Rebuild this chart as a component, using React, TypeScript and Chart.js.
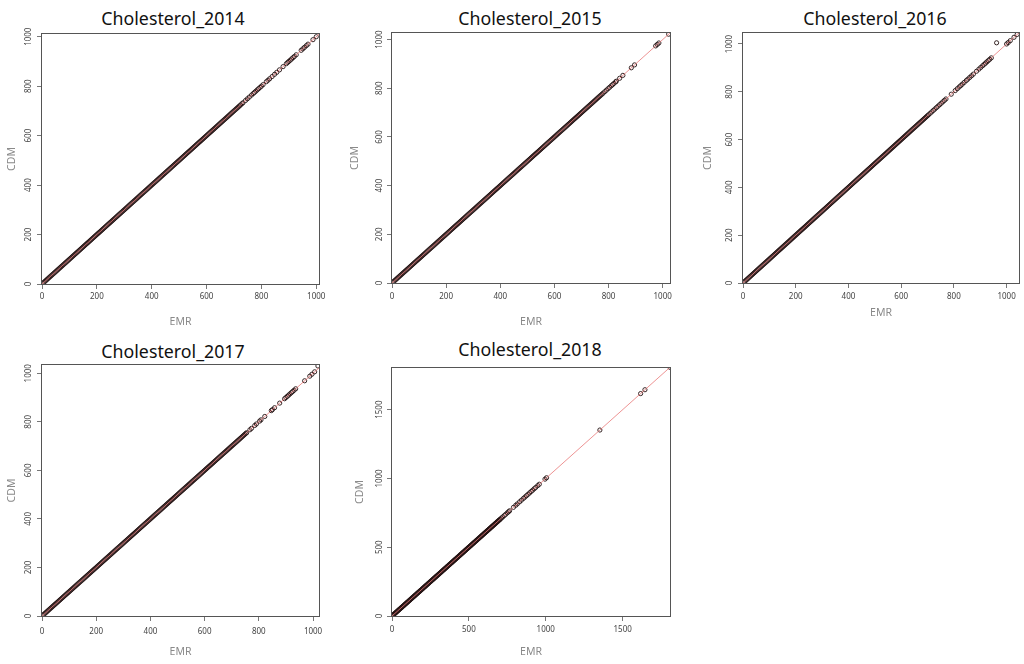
import React, { useEffect, useRef } from "react";
import { Chart, registerables } from "chart.js";

Chart.register(...registerables);

// ---------------- data ----------------
const panelTitles = [
  "Cholesterol_2014",
  "Cholesterol_2015",
  "Cholesterol_2016",
  "Cholesterol_2017",
  "Cholesterol_2018",
];
const xAxisLabel = "EMR";
const yAxisLabel = "CDM";

// dense band shared by every year (EMR value = CDM value)
const denseValues = [
  4, 8, 12, 16, 20, 24, 28, 32, 36, 40, 44, 48, 52, 56, 60, 64, 68, 72, 76, 80,
  84, 88, 92, 96, 100, 104, 108, 112, 116, 120, 124, 128, 132, 136, 140, 144, 148, 152, 156, 160,
  164, 168, 172, 176, 180, 184, 188, 192, 196, 200, 204, 208, 212, 216, 220, 224, 228, 232, 236, 240,
  244, 248, 252, 256, 260, 264, 268, 272, 276, 280, 284, 288, 292, 296, 300, 304, 308, 312, 316, 320,
  324, 328, 332, 336, 340, 344, 348, 352, 356, 360, 364, 368, 372, 376, 380, 384, 388, 392, 396, 400,
  404, 408, 412, 416, 420, 424, 428, 432, 436, 440, 444, 448, 452, 456, 460, 464, 468, 472, 476, 480,
  484, 488, 492, 496, 500, 504, 508, 512, 516, 520, 524, 528, 532, 536, 540, 544, 548, 552, 556, 560,
  564, 568, 572, 576, 580, 584, 588, 592, 596, 600, 604, 608, 612, 616, 620, 624, 628, 632, 636, 640,
  644, 648, 652, 656, 660, 664, 668, 672, 676, 680, 684, 688, 692, 696, 700,
];

// upper tails per year (EMR value = CDM value)
const tail2014 = [
  704, 708, 712, 716, 720, 724, 729, 733, 742, 749, 756, 764, 770, 775, 780, 785, 790, 795,
  800, 806, 818, 824, 830, 839, 848, 856, 866, 879, 891, 896, 900, 905, 910, 915, 920,
  927, 945, 951, 957, 964, 970, 988, 1000,
];
const tail2015 = [
  704, 708, 712, 716, 720, 724, 728, 732, 736, 740, 744, 748, 752, 756, 760, 764, 768, 772,
  776, 780, 786, 792, 798, 804, 810, 815, 820, 826, 829, 841, 853, 884, 896, 974, 980, 986, 1022,
];
const tail2016 = [
  704, 710, 716, 722, 728, 734, 740, 746, 752, 758, 764, 770, 790, 805, 813, 820, 826,
  832, 839, 847, 853, 860, 867, 874, 886, 895, 902, 909, 915, 920, 925, 930, 936, 942,
  1000, 1006, 1014, 1028, 1040,
];
const tail2017 = [
  704, 708, 712, 716, 720, 724, 728, 732, 736, 740, 744, 748, 752, 755, 767, 773, 785, 791,
  803, 808, 822, 846, 850, 858, 877, 895, 900, 905, 910, 915, 920, 925, 930, 936, 969, 988,
  996, 1006,
];
const tail2018 = [
  705, 712, 720, 730, 740, 750, 758, 765, 790, 805, 815, 830, 842, 855, 865, 875, 885,
  895, 905, 915, 925, 935, 948, 958, 995, 1005, 1352, 1617, 1645, 1808,
];

// points off the diagonal: [EMR, CDM]
const offDiagonal2016 = [[962, 1005]];
const offDiagonal2017 = [[1018, 1030]];

const ticksUpTo1000 = [0, 200, 400, 600, 800, 1000];
const ticksUpTo1500 = [0, 500, 1000, 1500];

const xLimits = [[0, 1010], [0, 1027], [0, 1047], [0, 1022], [0, 1808]];
const yLimits = [[0, 1011], [0, 1027], [0, 1046], [0, 1034], [0, 1803]];

// y = x reference line end values
const identityLine = [0, 2000];

// ---------------- layout / style ----------------
const tails = [tail2014, tail2015, tail2016, tail2017, tail2018];
const offs = [[], [], offDiagonal2016, offDiagonal2017, []];
const tickSets = [ticksUpTo1000, ticksUpTo1000, ticksUpTo1000, ticksUpTo1000, ticksUpTo1500];

type Layout = {
  canvas: [number, number, number, number];
  box: [number, number, number, number];
  titleAt: [number, number];
  yTickX: number;
  yTitleX: number;
  xTickY: number;
  xTitleY: number;
};

const layouts: Layout[] = [
  { canvas: [0, 0, 346, 330], box: [42, 34, 319, 284], titleAt: [173, 18.3], yTickX: 28.3, yTitleX: 11.7, xTickY: 296.7, xTitleY: 321.7 },
  { canvas: [346, 0, 340, 330], box: [392, 33, 670, 283], titleAt: [530, 18.3], yTickX: 379.3, yTitleX: 355, xTickY: 296.7, xTitleY: 321.7 },
  { canvas: [686, 0, 338, 330], box: [743, 33, 1023, 283], titleAt: [875, 18.3], yTickX: 729.3, yTitleX: 708, xTickY: 296.7, xTitleY: 313.3 },
  { canvas: [0, 330, 346, 334], box: [42, 365, 319, 616], titleAt: [173, 351.7], yTickX: 28.3, yTitleX: 11.7, xTickY: 631.7, xTitleY: 651.7 },
  { canvas: [346, 330, 340, 334], box: [392, 368, 670, 616], titleAt: [530, 350], yTickX: 380, yTitleX: 360, xTickY: 630, xTitleY: 651.7 },
];

const TICK_FAMILY = '"Noto Sans", sans-serif';
const TICK_SIZE = 8;
const LABEL_FAMILY = '"Noto Sans", sans-serif';
const LABEL_SIZE = 10.5;
const TICK_LEN = 5;

const boxPlugin = {
  id: "rBox",
  afterDatasetsDraw(chart: any) {
    const { ctx, chartArea: a } = chart;
    ctx.save();
    ctx.strokeStyle = "#555";
    ctx.lineWidth = 1;
    ctx.strokeRect(a.left - 0.5, a.top - 0.5, a.right - a.left + 1, a.bottom - a.top + 1);
    ctx.restore();
  },
};

function measureWidest(vals: number[]) {
  const c = document.createElement("canvas").getContext("2d")!;
  c.font = `${TICK_SIZE}px ${TICK_FAMILY}`;
  return Math.max(...vals.map((v) => c.measureText(String(v)).width));
}

function Panel({ index }: { index: number }) {
  const ref = useRef<HTMLCanvasElement>(null);
  const L = layouts[index];
  const [cx, cy, cw, ch] = L.canvas;
  const [bl, bt, br, bb] = L.box;

  useEffect(() => {
    const canvas = ref.current!;
    const tickVals = tickSets[index];
    const points = [
      ...denseValues.map((v) => ({ x: v, y: v })),
      ...tails[index].map((v) => ({ x: v, y: v })),
      ...offs[index].map(([e, c]) => ({ x: e, y: c })),
    ];
    const linePts = identityLine.map((v) => ({ x: v, y: v }));

    const tickLH = TICK_SIZE * 1.2;
    const labelLH = LABEL_SIZE * 1.2;
    const widest = measureWidest(tickVals);
    const yTickPad = bl - TICK_LEN - widest / 2 - L.yTickX;
    const xTickPad = L.xTickY - bb - TICK_LEN - tickLH / 2;
    const xTitlePad = cy + ch - L.xTitleY - labelLH / 2;
    const yTitlePad = L.yTitleX - cx - labelLH / 2;

    const setTicks = (s: any) => {
      s.ticks = tickVals.map((v) => ({ value: v }));
    };

    const chart = new Chart(canvas, {
      type: "scatter",
      data: {
        datasets: [
          {
            data: linePts,
            showLine: true,
            pointRadius: 0,
            borderColor: "rgba(232,120,120,0.8)",
            borderWidth: 1,
            order: 0,
            clip: 0,
          } as any,
          {
            data: points,
            pointStyle: "circle",
            pointRadius: 2.1,
            pointBorderWidth: 1,
            pointBorderColor: "rgba(35,18,18,0.9)",
            pointBackgroundColor: "rgba(0,0,0,0)",
            showLine: false,
            order: 1,
            clip: 0,
          } as any,
        ],
      },
      options: {
        animation: false,
        responsive: false,
        devicePixelRatio: 1,
        events: [],
        layout: {
          padding: { left: 0, top: bt - cy, right: cx + cw - br, bottom: 0 },
        },
        plugins: {
          legend: { display: false },
          tooltip: { enabled: false },
          title: { display: false },
        },
        scales: {
          x: {
            type: "linear",
            position: "bottom",
            min: xLimits[index][0],
            max: xLimits[index][1],
            afterBuildTicks: setTicks,
            afterFit: (s: any) => {
              s.height = cy + ch - bb;
            },
            ticks: {
              callback: (v: any) => String(v),
              font: { family: TICK_FAMILY, size: TICK_SIZE },
              color: "#444",
              padding: xTickPad,
              maxRotation: 0,
              minRotation: 0,
              autoSkip: false,
            },
            grid: {
              display: true,
              drawOnChartArea: false,
              drawTicks: true,
              tickLength: TICK_LEN,
              color: "#777",
            },
            border: { display: false },
            title: {
              display: true,
              text: xAxisLabel,
              color: "#8a8a8a",
              font: { family: LABEL_FAMILY, size: LABEL_SIZE },
              padding: { top: 0, bottom: xTitlePad },
            },
          },
          y: {
            type: "linear",
            position: "left",
            min: yLimits[index][0],
            max: yLimits[index][1],
            afterBuildTicks: setTicks,
            afterFit: (s: any) => {
              s.width = bl - cx;
            },
            ticks: {
              callback: (v: any) => String(v),
              font: { family: TICK_FAMILY, size: TICK_SIZE },
              color: "#444",
              padding: yTickPad,
              minRotation: 90,
              maxRotation: 90,
              crossAlign: "center",
              autoSkip: false,
            },
            grid: {
              display: true,
              drawOnChartArea: false,
              drawTicks: true,
              tickLength: TICK_LEN,
              color: "#777",
            },
            border: { display: false },
            title: {
              display: true,
              text: yAxisLabel,
              color: "#8a8a8a",
              font: { family: LABEL_FAMILY, size: LABEL_SIZE },
              padding: { top: yTitlePad, bottom: 0 },
            },
          },
        },
      } as any,
      plugins: [boxPlugin],
    });
    return () => chart.destroy();
  }, [index]);

  const [tx, ty] = L.titleAt;
  return (
    <>
      <div
        style={{
          position: "absolute",
          left: tx - 120,
          top: ty - 13.6,
          width: 240,
          height: 26,
          lineHeight: "26px",
          textAlign: "center",
          fontFamily: '"Noto Sans", sans-serif',
          fontSize: 18.5,
          color: "#111",
          whiteSpace: "nowrap",
          transform: "scaleX(0.96)",
        }}
      >
        {panelTitles[index]}
      </div>
      <canvas
        ref={ref}
        width={cw}
        height={ch}
        style={{ position: "absolute", left: cx, top: cy, width: cw, height: ch }}
      />
    </>
  );
}

export default function App() {
  return (
    <div
      style={{
        position: "absolute",
        left: 0,
        top: 0,
        width: 1024,
        height: 664,
        background: "#fff",
        overflow: "hidden",
      }}
    >
      {layouts.map((_, i) => (
        <Panel key={i} index={i} />
      ))}
    </div>
  );
}
